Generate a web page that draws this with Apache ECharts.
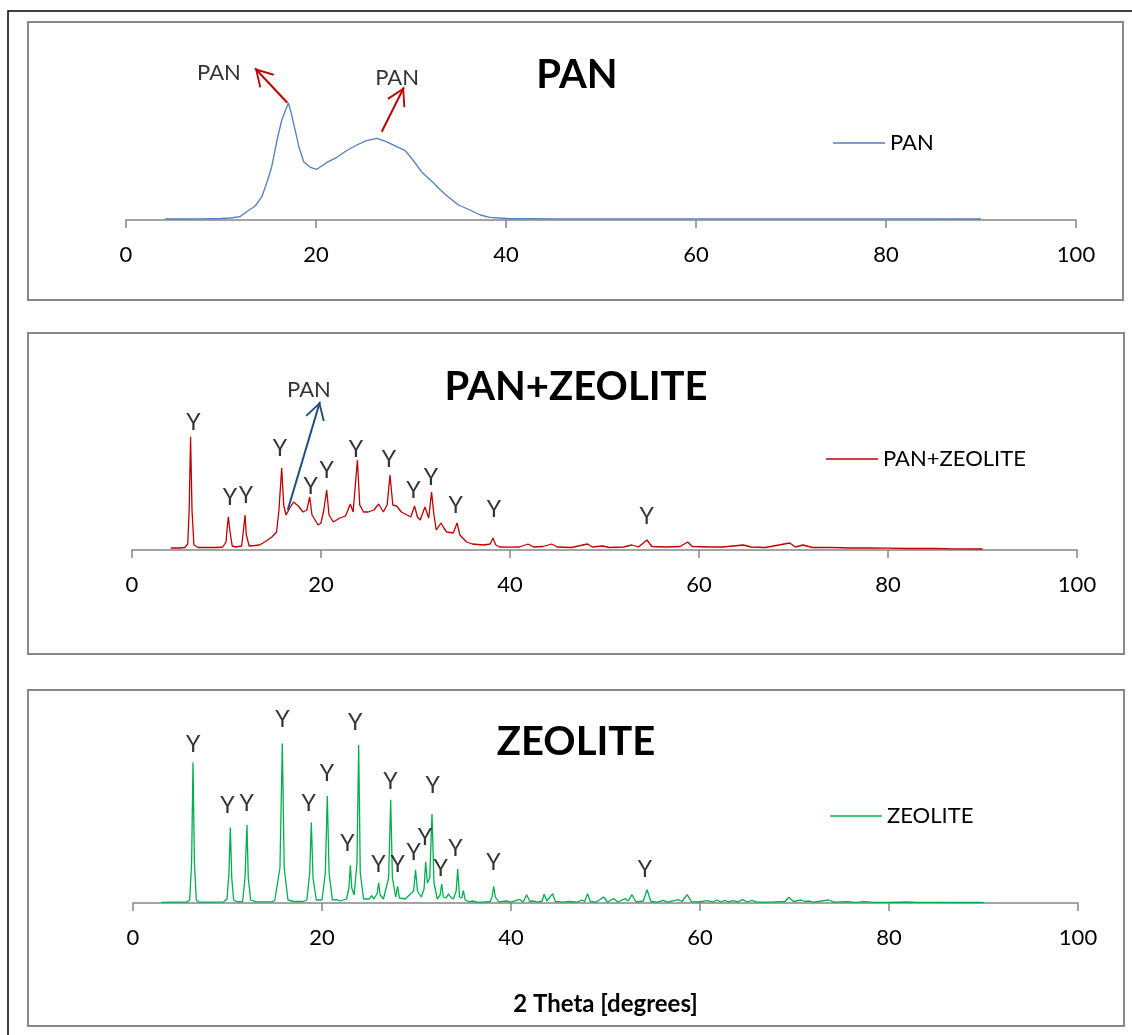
<!DOCTYPE html>
<html><head><meta charset="utf-8">
<script src="https://cdn.jsdelivr.net/npm/echarts@6/dist/echarts.min.js"></script>
<style>html,body{margin:0;padding:0;background:#fff}#c{width:1132px;height:1035px}</style>
</head><body><div id="c"></div>
<script>
// ---------- DATA (2 Theta [degrees], intensity a.u.) ----------
const xTicks = [0, 20, 40, 60, 80, 100];
const seriesNames = ['PAN', 'PAN+ZEOLITE', 'ZEOLITE'];

const panData = [[4.1,10],[6,10],[8,12],[10,15],[11,20],[12.0,33],[12.7,83],[13.6,140],[14.3,233],[14.8,367],[15.3,517],[15.9,800],[16.4,1000],[16.8,1100],[17.1,1170],[17.4,1067],[17.8,900],[18.2,733],[18.7,583],[19.4,527],[20.1,507],[21.1,573],[22.2,627],[23.2,693],[24.3,750],[25.3,793],[26.4,817],[27.4,783],[28.5,733],[29.4,693],[30.2,600],[31.1,483],[32.4,367],[33.1,300],[33.9,233],[35.0,150],[36.2,100],[37.3,50],[38.3,27],[40.1,15],[45,12],[50,12],[60,12],[70,12],[80,12],[90,10]];

const panZeoData = [[4.1,20],[5.0,20],[5.6,25],[5.9,60],[6.05,400],[6.2,1133],[6.35,400],[6.55,50],[7.0,25],[8.0,25],[9.0,25],[9.6,30],[9.95,80],[10.1,250],[10.2,333],[10.35,200],[10.6,40],[11.0,30],[11.6,40],[11.8,200],[11.96,350],[12.1,150],[12.4,40],[13.0,45],[13.5,50],[14.2,90],[14.8,130],[15.3,180],[15.55,400],[15.84,820],[16.05,450],[16.3,350],[16.7,420],[17.1,480],[17.6,440],[18.1,380],[18.5,400],[18.8,530],[19.05,350],[19.7,250],[20.0,270],[20.3,400],[20.6,600],[20.85,350],[21.3,280],[22.0,320],[22.6,340],[23.1,460],[23.4,380],[23.85,900],[24.1,450],[24.5,380],[25.0,380],[25.6,400],[26.1,460],[26.6,380],[27.0,450],[27.3,750],[27.6,450],[28.0,440],[28.5,380],[29.1,350],[29.5,330],[29.9,440],[30.2,330],[30.5,300],[31.0,430],[31.4,320],[31.7,580],[31.95,350],[32.2,200],[32.7,270],[33.0,220],[33.3,180],[34.0,170],[34.4,270],[34.7,150],[35.4,80],[36.0,60],[37.2,50],[37.9,60],[38.2,120],[38.5,50],[38.9,30],[40.0,28],[41.0,30],[41.9,60],[42.5,30],[43.5,35],[44.4,60],[45.0,30],[46.5,25],[48.2,60],[48.7,30],[49.8,40],[50.5,25],[52.0,30],[52.9,50],[53.6,30],[54.5,100],[55.0,35],[56.5,30],[58.0,35],[58.8,80],[59.3,35],[61.0,30],[62.5,30],[64.7,50],[65.5,30],[67.0,25],[69.6,70],[70.2,30],[71.0,50],[72.0,25],[74.0,25],[76.0,20],[78.0,20],[80.0,18],[82.0,15],[85.0,15],[87.0,12],[90.0,10]];

const zeoData = [[3.0,7],[4.0,8],[5.0,8],[5.7,10],[6.0,30],[6.2,400],[6.35,1407],[6.5,400],[6.7,30],[7.0,10],[8.0,8],[9.0,8],[9.6,12],[9.95,40],[10.15,300],[10.3,756],[10.45,250],[10.65,30],[11.0,12],[11.6,15],[11.85,250],[12.06,780],[12.2,250],[12.45,30],[13.0,12],[14.0,12],[14.7,14],[15.0,25],[15.55,350],[15.8,1596],[16.0,350],[16.4,30],[17.0,15],[18.0,15],[18.4,30],[18.7,300],[18.87,806],[19.05,250],[19.4,30],[20.0,30],[20.35,300],[20.56,1070],[20.75,300],[21.1,30],[21.55,33],[21.9,20],[22.6,40],[22.85,150],[23.0,377],[23.15,150],[23.4,80],[23.7,400],[23.88,1580],[24.05,300],[24.4,40],[25.0,40],[25.25,73],[25.5,40],[25.85,100],[26.0,203],[26.15,80],[26.5,40],[27.05,250],[27.27,1033],[27.45,250],[27.8,60],[28.0,167],[28.2,50],[28.8,40],[29.7,120],[29.9,333],[30.1,120],[30.5,60],[30.8,140],[30.97,413],[31.15,200],[31.4,250],[31.64,890],[31.85,200],[32.2,40],[32.5,80],[32.67,190],[32.85,60],[33.1,50],[33.4,90],[33.6,60],[33.9,40],[34.2,120],[34.36,340],[34.55,60],[34.8,50],[34.96,123],[35.15,30],[35.6,12],[35.9,20],[36.3,10],[37.0,8],[37.8,15],[38.0,60],[38.17,167],[38.35,60],[38.7,12],[39.5,20],[40.0,8],[40.9,37],[41.3,10],[41.66,83],[42.0,15],[42.3,20],[42.8,8],[43.3,20],[43.5,87],[43.8,20],[44.4,93],[44.7,15],[45.5,8],[46.2,15],[47.0,8],[47.5,30],[47.8,15],[48.1,93],[48.4,15],[49.0,8],[49.8,60],[50.2,10],[50.9,43],[51.3,10],[52.1,43],[52.4,20],[52.8,83],[53.2,12],[54.0,20],[54.4,133],[54.8,15],[55.5,8],[56.1,27],[56.6,8],[57.7,33],[58.1,15],[58.65,83],[59.1,12],[59.8,10],[60.8,23],[61.3,8],[61.8,30],[62.2,10],[62.6,27],[63.0,10],[63.5,23],[64.0,10],[64.5,33],[65.0,10],[65.5,27],[66.0,8],[67.5,8],[69.0,15],[69.4,57],[69.9,15],[70.7,30],[71.1,15],[71.5,20],[72.0,8],[73.6,30],[74.2,8],[75.5,13],[76.5,7],[77.3,13],[78.5,6],[80.0,6],[81.9,10],[83.0,6],[85.3,7],[87.0,5],[90.0,5]];

// "Y" peak annotations (anchor points in data units)
const panZeoPeakLabels = [[6.49,1273],[10.37,527],[12.06,540],[15.66,1017],[18.91,633],[20.60,793],[23.70,1007],[27.20,907],[29.77,593],[31.64,723],[34.25,440],[38.31,400],[54.47,333]];
const zeoPeakLabels = [[6.38,1587],[9.98,977],[12.03,990],[15.8,1830],[18.59,997],[20.53,1290],[22.68,590],[23.52,1807],[25.96,380],[27.23,1213],[28.01,387],[29.70,507],[30.90,653],[31.71,1173],[32.56,340],[34.11,547],[38.13,403],[54.18,337]];

// PAN arrow annotations
const panArrows = [[[16.98,1173],[13.58,1517]], [[26.92,883],[29.26,1327]]];
const panArrowLabels = [[9.79,1467],[28.53,1420]];
const panZeoArrows = [[[16.48,400],[19.89,1483]]];
const panZeoArrowLabels = [[18.73,1600]];

// ---------- CHART ----------
const FONT = 'Lato, "Open Sans", sans-serif';
const chart = echarts.init(document.getElementById('c'), null, {renderer: 'canvas'});
const arrowHead = 'path://M0,0 L10,17 L8.4,18 L0,3.6 L-8.4,18 L-10,17 Z';

function xAxisCfg(i, extra) {
  return Object.assign({
    type: 'value', gridIndex: i, min: xTicks[0], max: xTicks[xTicks.length - 1], interval: xTicks[1] - xTicks[0],
    axisLine: {show: true, onZero: false, lineStyle: {color: '#868686', width: 1.5}},
    axisTick: {show: true, inside: false, length: 8, lineStyle: {color: '#868686', width: 1.5}},
    axisLabel: {show: true, margin: 24, fontSize: 22, color: '#000', fontFamily: FONT},
    splitLine: {show: false}
  }, extra || {});
}
function yAxisCfg(i, max) {
  return {type: 'value', gridIndex: i, min: 0, max: max, show: false, splitLine: {show: false}};
}
function textSeries(name, i, data, txt, size) {
  return {
    name: name, type: 'scatter', xAxisIndex: i, yAxisIndex: i, data: data, clip: false, silent: true,
    symbol: 'circle', symbolSize: 1, itemStyle: {color: 'rgba(0,0,0,0)'},
    label: {show: true, position: 'inside', formatter: txt, fontSize: size, color: '#000', fontFamily: FONT},
    emphasis: {disabled: true}, z: 5
  };
}
function arrowMark(list, color) {
  return {
    silent: true, symbol: ['none', arrowHead], symbolSize: [20, 18], symbolOffset: [[0, 0], [0, 9]],
    lineStyle: {color: color, width: 2, type: 'solid'}, label: {show: false}, emphasis: {disabled: true},
    data: list.map(a => [{coord: a[0]}, {coord: a[1]}])
  };
}
function lineSeries(name, i, data, color, mark) {
  const s = {
    name: name, type: 'line', xAxisIndex: i, yAxisIndex: i, data: data, showSymbol: false, symbol: 'none',
    lineStyle: {color: color, width: 1.3}, itemStyle: {color: color}, color: color, silent: true, z: 3
  };
  if (mark) s.markLine = mark;
  return s;
}
function legendCfg(name, left, top) {
  return {
    data: [name], left: left, top: top, icon: 'rect', itemWidth: 52, itemHeight: 1.5, selectedMode: false,
    textStyle: {fontSize: 22, color: '#000', fontFamily: FONT}
  };
}
function title(txt, x, y) {
  return {type: 'text', x: x, y: y, silent: true, z: 10,
    style: {text: txt, fontSize: 40, fontWeight: 'bold', fontFamily: FONT, fill: '#000', align: 'center', verticalAlign: 'middle'}};
}
function box(x, y, w, h, stroke, lw) {
  return {type: 'rect', silent: true, z: 0, shape: {x: x, y: y, width: w, height: h},
    style: {fill: 'none', stroke: stroke, lineWidth: lw}};
}

chart.setOption({
  animation: false,
  backgroundColor: '#fff',
  grid: [
    {left: 126, right: 56, top: 30, bottom: 815, outerBoundsMode: 'none'},
    {left: 132, right: 55, top: 360, bottom: 485, outerBoundsMode: 'none'},
    {left: 133, right: 54, top: 703, bottom: 132, outerBoundsMode: 'none'}
  ],
  xAxis: [
    xAxisCfg(0), xAxisCfg(1),
    xAxisCfg(2, {name: '2 Theta [degrees]', nameLocation: 'middle', nameGap: 89,
      nameTextStyle: {fontSize: 24, fontWeight: 'bold', color: '#000', fontFamily: FONT}})
  ],
  yAxis: [yAxisCfg(0, 1900), yAxisCfg(1, 1900), yAxisCfg(2, 2000)],
  legend: [
    legendCfg(seriesNames[0], 828, 127),
    legendCfg(seriesNames[1], 821, 443),
    legendCfg(seriesNames[2], 825, 800)
  ],
  graphic: [
    box(8, 11, 1200, 1100, '#000', 1.5),
    box(28, 22, 1095, 278, '#898989', 2),
    box(28, 333, 1096, 321, '#898989', 2),
    box(28, 690, 1096, 336, '#898989', 2),
    title('PAN', 577, 75),
    title('PAN+ZEOLITE', 576, 387),
    title('ZEOLITE', 576, 742)
  ],
  series: [
    lineSeries(seriesNames[0], 0, panData, '#4F81BD', arrowMark(panArrows, '#C00000')),
    lineSeries(seriesNames[1], 1, panZeoData, '#C00000', arrowMark(panZeoArrows, '#1F4E79')),
    lineSeries(seriesNames[2], 2, zeoData, '#00B050'),
    textSeries('panLbl', 0, panArrowLabels, 'PAN', 22),
    textSeries('panZeoLbl', 1, panZeoArrowLabels, 'PAN', 22),
    textSeries('panZeoY', 1, panZeoPeakLabels, 'Y', 23),
    textSeries('zeoY', 2, zeoPeakLabels, 'Y', 23)
  ]
});
</script>
</body></html>
